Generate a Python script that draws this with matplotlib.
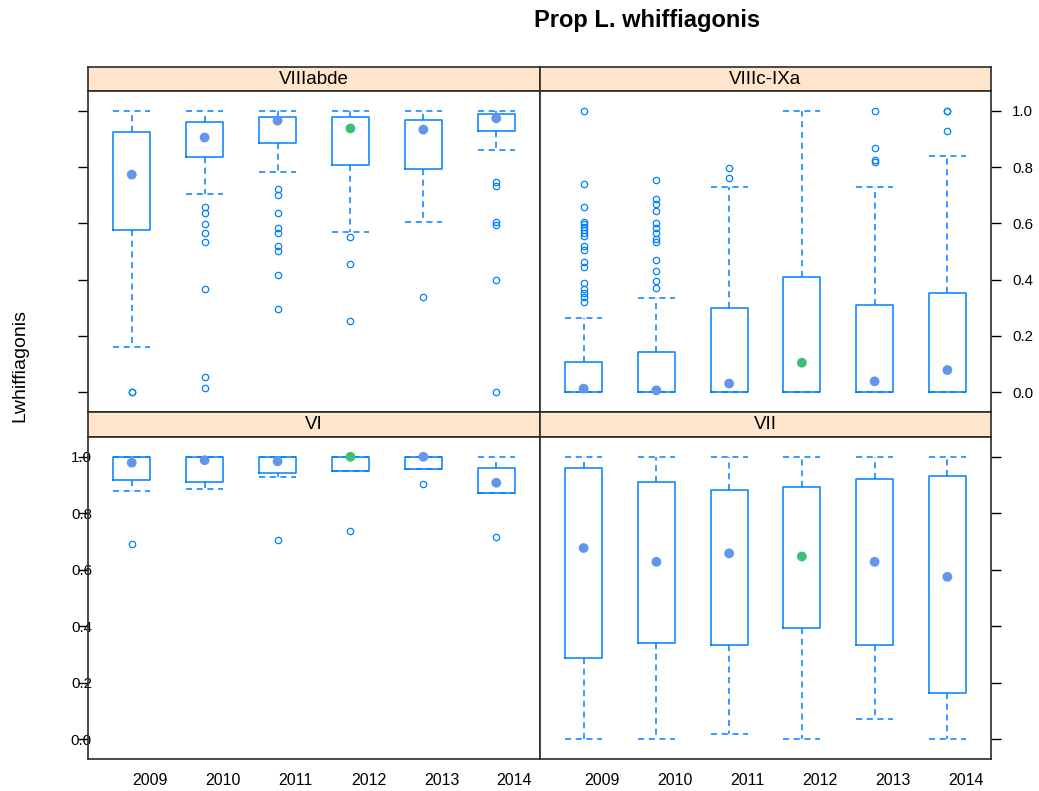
import numpy as np
import matplotlib
matplotlib.use("Agg")
from matplotlib import pyplot as plt

plt.rcParams['font.family'] = ['Liberation Sans', 'DejaVu Sans']

years = ['2009', '2010', '2011', '2012', '2013', '2014']
highlight = '2012'
panels = ['VIIIabde', 'VIIIc-IXa', 'VI', 'VII']

# box statistics per area, one value per year
q1 = {
    'VIIIabde':  [0.576, 0.835, 0.884, 0.807, 0.794, 0.929],
    'VIIIc-IXa': [0.0, 0.0, 0.0, 0.0, 0.0, 0.0],
    'VI':        [0.918, 0.910, 0.941, 0.948, 0.957, 0.873],
    'VII':       [0.289, 0.339, 0.334, 0.395, 0.334, 0.164],
}
q3 = {
    'VIIIabde':  [0.924, 0.960, 0.978, 0.978, 0.968, 0.987],
    'VIIIc-IXa': [0.106, 0.142, 0.299, 0.410, 0.311, 0.351],
    'VI':        [1.0, 1.0, 1.0, 1.0, 1.0, 0.961],
    'VII':       [0.961, 0.910, 0.881, 0.894, 0.921, 0.931],
}
med = {
    'VIIIabde':  [0.773, 0.905, 0.965, 0.937, 0.933, 0.973],
    'VIIIc-IXa': [0.013, 0.007, 0.031, 0.105, 0.039, 0.079],
    'VI':        [0.979, 0.988, 0.984, 1.0, 1.0, 0.908],
    'VII':       [0.677, 0.628, 0.658, 0.647, 0.628, 0.575],
}
whislo = {
    'VIIIabde':  [0.161, 0.705, 0.781, 0.571, 0.606, 0.862],
    'VIIIc-IXa': [0.0, 0.0, 0.0, 0.0, 0.0, 0.0],
    'VI':        [0.878, 0.886, 0.927, 0.948, 0.957, 0.873],
    'VII':       [0.0, 0.0, 0.018, 0.0, 0.070, 0.0],
}
whishi = {
    'VIIIabde':  [1.0, 1.0, 1.0, 1.0, 1.0, 1.0],
    'VIIIc-IXa': [0.264, 0.334, 0.728, 1.0, 0.728, 0.839],
    'VI':        [1.0, 1.0, 1.0, 1.0, 1.0, 1.0],
    'VII':       [1.0, 1.0, 1.0, 1.0, 1.0, 1.0],
}
outliers = {
    'VIIIabde': [
        [0.0, 0.0],
        [0.657, 0.637, 0.596, 0.564, 0.533, 0.368, 0.056, 0.014],
        [0.723, 0.700, 0.636, 0.584, 0.564, 0.521, 0.501, 0.416, 0.296],
        [0.551, 0.456, 0.252],
        [0.340],
        [0.748, 0.732, 0.605, 0.593, 0.400, 0.0],
    ],
    'VIIIc-IXa': [
        [1.0, 0.739, 0.658, 0.605, 0.596, 0.586, 0.576, 0.566, 0.554,
         0.519, 0.507, 0.462, 0.444, 0.387, 0.368, 0.353, 0.337, 0.320],
        [0.753, 0.687, 0.667, 0.645, 0.602, 0.584, 0.564, 0.543, 0.535,
         0.470, 0.430, 0.395, 0.372],
        [0.797, 0.761],
        [],
        [1.0, 0.869, 0.826, 0.817],
        [1.0, 1.0, 0.927],
    ],
    'VI': [
        [0.692],
        [],
        [0.705],
        [0.737],
        [0.902],
        [0.715],
    ],
    'VII': [[], [], [], [], [], []],
}

box_col = '#0080ff'
dot_col = '#6495ed'
dot_hi = '#3dbf75'
strip_col = '#ffe5cc'
edge_col = '#2a2a2a'

W, H = 1039, 791
fig = plt.figure(figsize=(W / 100, H / 100), dpi=100)


def px_axes(x0, y0, x1, y1):
    return fig.add_axes([x0 / W, 1 - y1 / H, (x1 - x0) / W, (y1 - y0) / H])


cols = [(88, 540), (540, 991)]
strips = [(67, 91), (412, 437)]
plots = [(91, 412), (437, 759)]
pos = np.arange(1, len(years) + 1)
dash = (0, (4, 3))

for k, name in enumerate(panels):
    row, col = divmod(k, 2)
    x0, x1 = cols[col]

    # strip with the area name
    sax = px_axes(x0, strips[row][0], x1, strips[row][1])
    sax.set_facecolor(strip_col)
    sax.set_xticks([])
    sax.set_yticks([])
    for sp in sax.spines.values():
        sp.set_color(edge_col)
        sp.set_linewidth(1.2)
    sax.text(0.5, 0.5, name, ha='center', va='center', fontsize=13.5,
             transform=sax.transAxes)

    ax = px_axes(x0, plots[row][0], x1, plots[row][1])
    stats = []
    for i in range(len(years)):
        stats.append(dict(med=med[name][i], q1=q1[name][i], q3=q3[name][i],
                          whislo=whislo[name][i], whishi=whishi[name][i],
                          fliers=outliers[name][i]))
    ax.bxp(stats, positions=pos, widths=0.51, capwidths=0.51,
           boxprops=dict(color=box_col, lw=1.1),
           whiskerprops=dict(color=box_col, lw=1.1, ls=dash),
           capprops=dict(color=box_col, lw=1.1, ls=dash),
           medianprops=dict(linestyle='none'),
           flierprops=dict(marker='o', mfc='none', mec=box_col, ms=4.6,
                           mew=0.9, ls='none'))
    colors = [dot_hi if y == highlight else dot_col for y in years]
    ax.scatter(pos, med[name], c=colors, s=50, marker='o', zorder=5,
               linewidths=0)

    ax.set_xlim(0.4, 6.6)
    ax.set_ylim(-0.07, 1.07)
    for sp in ax.spines.values():
        sp.set_color(edge_col)
        sp.set_linewidth(1.2)

    yt = np.arange(0, 1.01, 0.2)
    ax.set_yticks(yt, [f'{v:.1f}' for v in yt])
    ax.tick_params(axis='y', direction='out', length=7.2, width=1,
                   labelsize=10.8)
    if col == 0:
        ax.tick_params(axis='y', left=True, right=False,
                       labelleft=(row == 1), labelright=False, pad=-10)
    else:
        ax.tick_params(axis='y', left=False, right=True,
                       labelleft=False, labelright=(row == 0), pad=8)

    if row == 1:
        ax.set_xticks(pos + 0.25, years)
        ax.tick_params(axis='x', length=0, pad=10, labelsize=11.5)
    else:
        ax.set_xticks([])

fig.text(646.7 / W, 1 - 20 / H, 'Prop L. whiffiagonis', fontsize=17,
         weight='bold', ha='center', va='center')
fig.text(20 / W, 1 - 365 / H, 'Lwhiffiagonis', rotation=90, fontsize=14,
         ha='center', va='center')

fig.savefig('out.png', dpi=100)
